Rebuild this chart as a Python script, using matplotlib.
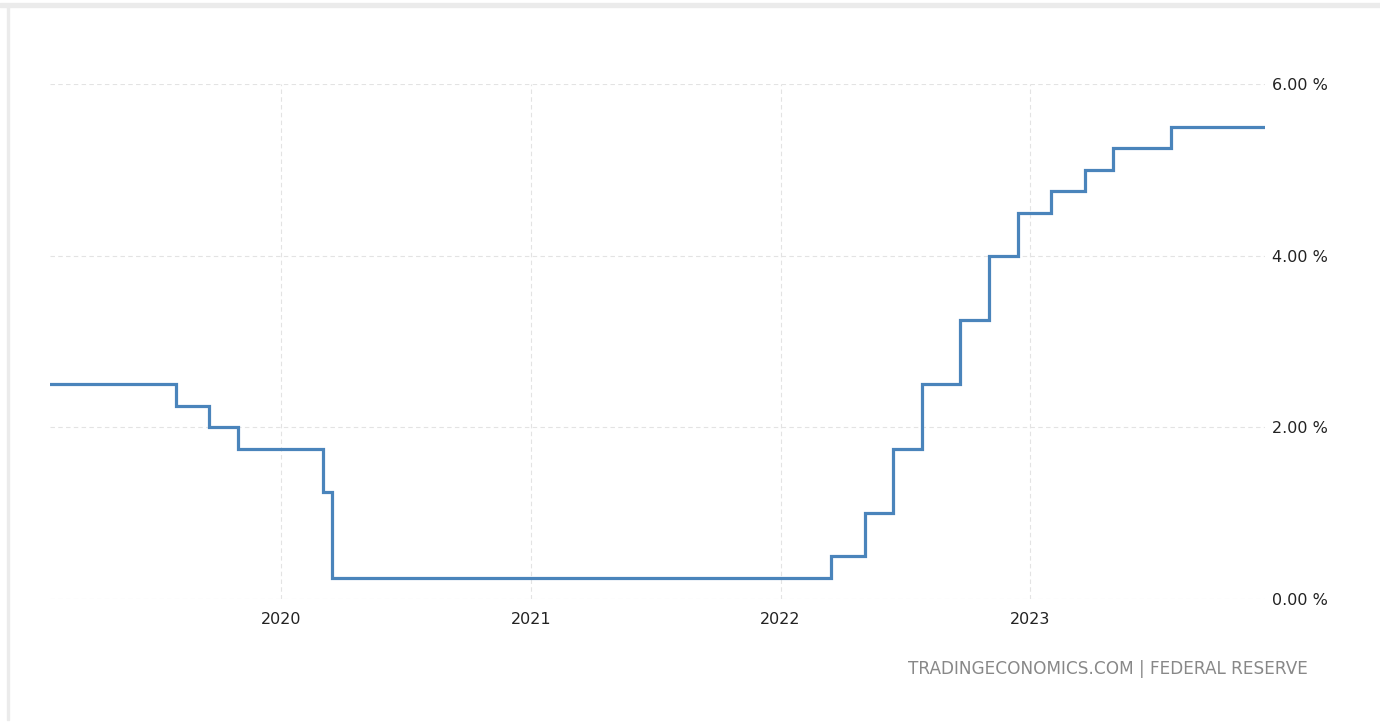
import pandas as pd
import matplotlib.pyplot as plt
import matplotlib.dates as mdates
from matplotlib.patches import Rectangle

# Fed funds rate (upper bound) change dates and levels
dates = ['2019-01-28', '2019-07-31', '2019-09-18', '2019-10-30', '2020-03-03',
         '2020-03-15', '2022-03-16', '2022-05-04', '2022-06-15', '2022-07-27',
         '2022-09-21', '2022-11-02', '2022-12-14', '2023-02-01', '2023-03-22',
         '2023-05-03', '2023-07-26', '2023-12-11']
rates = [2.50, 2.25, 2.00, 1.75, 1.25,
         0.25, 0.50, 1.00, 1.75, 2.50,
         3.25, 4.00, 4.50, 4.75, 5.00,
         5.25, 5.50, 5.50]
y_ticks = [0, 2, 4, 6]
source = 'TRADINGECONOMICS.COM | FEDERAL RESERVE'

x = pd.to_datetime(dates)

fig = plt.figure(figsize=(13.8, 7.25), dpi=100)
# light frame around the chart card
fig.patches.append(Rectangle((0, 1 - 7 / 725), 1, 4 / 725, transform=fig.transFigure,
                             color='#ebebeb', zorder=0))
fig.patches.append(Rectangle((7 / 1380, 5 / 725), 2 / 1380, 1 - 12 / 725,
                             transform=fig.transFigure, color='#ebebeb', zorder=0))

ax = fig.add_axes([50 / 1380, 1 - 599 / 725, 1215 / 1380, 515 / 725])
ax.step(x, rates, where='post', color='#4a84bb', lw=2.3, solid_joinstyle='miter')

ax.set_xlim(x[0], x[-1])
ax.set_ylim(0, 6)
ax.set_yticks(y_ticks)
ax.set_yticklabels([f'{v:.2f} %' for v in y_ticks])
ax.yaxis.tick_right()
ax.xaxis.set_major_locator(mdates.YearLocator())
ax.xaxis.set_major_formatter(mdates.DateFormatter('%Y'))

ax.grid(True, color='#e3e3e3', linestyle=(0, (4, 3)), lw=0.8)
ax.set_axisbelow(True)
for s in ax.spines.values():
    s.set_visible(False)
ax.tick_params(length=0, labelsize=11.5, colors='#222222')
ax.tick_params(axis='y', pad=5)
ax.tick_params(axis='x', pad=9)

fig.text(1308 / 1380, 1 - 669 / 725, source, ha='right', va='center',
         fontsize=12.2, color='#888888')

fig.savefig('out.png', dpi=100)
